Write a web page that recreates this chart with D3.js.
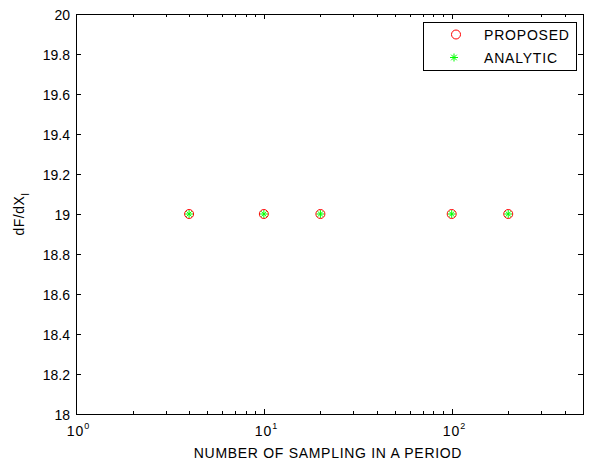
<!DOCTYPE html>
<html><head><meta charset="utf-8">
<script src="https://cdn.jsdelivr.net/npm/d3@7"></script>
<style>body{margin:0;background:#fff}svg{display:block}text{font-family:"Liberation Sans",Arial,sans-serif;}</style>
</head><body>
<script>
const samples = [4, 10, 20, 100, 200];
const proposed = [19, 19, 19, 19, 19];
const analytic = [19, 19, 19, 19, 19];
const yTicks = [18, 18.2, 18.4, 18.6, 18.8, 19, 19.2, 19.4, 19.6, 19.8, 20];
const xDecades = [1, 10, 100];
const legendNames = ["PROPOSED", "ANALYTIC"];

const W = 592, H = 464;
const m = {l: 76, r: 583, t: 14, b: 414};
const svg = d3.select("body").append("svg").attr("width", W).attr("height", H);
const x = d3.scaleLog().domain([1, 500]).range([m.l, m.r]);
const y = d3.scaleLinear().domain([18, 20]).range([m.b, m.t]);

const minor = [];
for (const d of xDecades) for (let k = 2; k <= 9; k++) { const v = d * k; if (v <= 500) minor.push(v); }

const g = svg.append("g");
g.append("rect").attr("x", m.l + 0.5).attr("y", m.t + 0.5).attr("width", m.r - m.l).attr("height", m.b - m.t)
  .attr("fill", "none").attr("stroke", "#000").attr("stroke-width", 1);

yTicks.forEach(v => {
  const yy = Math.round(y(v)) + 0.5;
  g.append("line").attr("x1", m.l).attr("x2", m.l + 5).attr("y1", yy).attr("y2", yy).attr("stroke", "#000");
  g.append("line").attr("x1", m.r - 5).attr("x2", m.r).attr("y1", yy).attr("y2", yy).attr("stroke", "#000");
  g.append("text").attr("x", m.l - 6).attr("y", yy + 5).attr("text-anchor", "end")
    .attr("font-size", 14).text(+v.toFixed(1));
});
xDecades.forEach(v => {
  const xx = Math.round(x(v)) + 0.5;
  g.append("line").attr("x1", xx).attr("x2", xx).attr("y1", m.b).attr("y2", m.b - 5).attr("stroke", "#000");
  g.append("line").attr("x1", xx).attr("x2", xx).attr("y1", m.t).attr("y2", m.t + 5).attr("stroke", "#000");
  const t = g.append("text").attr("x", xx + 2).attr("y", m.b + 22).attr("text-anchor", "middle").attr("font-size", 14)
    .attr("letter-spacing", 1);
  t.append("tspan").text("10");
  t.append("tspan").attr("dy", -7).attr("font-size", 9).text(Math.round(Math.log10(v)));
});
minor.forEach(v => {
  const xx = Math.round(x(v)) + 0.5;
  g.append("line").attr("x1", xx).attr("x2", xx).attr("y1", m.b).attr("y2", m.b - 3).attr("stroke", "#000");
  g.append("line").attr("x1", xx).attr("x2", xx).attr("y1", m.t).attr("y2", m.t + 3).attr("stroke", "#000");
});

g.append("text").attr("x", 328).attr("y", 458).attr("text-anchor", "middle").attr("font-size", 14)
  .attr("letter-spacing", 0.7).text("NUMBER OF SAMPLING IN A PERIOD");
const yl = g.append("text").attr("transform", `translate(24,${(m.t + m.b) / 2}) rotate(-90)`)
  .attr("text-anchor", "middle").attr("font-size", 14).attr("letter-spacing", 0.5);
yl.append("tspan").text("dF/dX");
yl.append("tspan").attr("dy", 5).attr("font-size", 10).text("I");

function star(sel, cx, cy, r, color) {
  const gg = sel.append("g").attr("stroke", color).attr("stroke-width", 1);
  gg.append("line").attr("x1", cx - r).attr("x2", cx + r).attr("y1", cy).attr("y2", cy);
  gg.append("line").attr("x1", cx).attr("x2", cx).attr("y1", cy - r).attr("y2", cy + r);
  const d = r * 0.7;
  gg.append("line").attr("x1", cx - d).attr("x2", cx + d).attr("y1", cy - d).attr("y2", cy + d);
  gg.append("line").attr("x1", cx - d).attr("x2", cx + d).attr("y1", cy + d).attr("y2", cy - d);
}

samples.forEach((s, i) => {
  g.append("circle").attr("cx", x(s)).attr("cy", y(proposed[i])).attr("r", 4.5)
    .attr("fill", "none").attr("stroke", "#ff0000").attr("stroke-width", 1);
});
samples.forEach((s, i) => star(g, x(s), y(analytic[i]), 4, "#00ff00"));

const lg = g.append("g");
lg.append("rect").attr("x", 423.5).attr("y", 22.5).attr("width", 153).attr("height", 48)
  .attr("fill", "#fff").attr("stroke", "#000");
lg.append("circle").attr("cx", 456).attr("cy", 34.5).attr("r", 4.5).attr("fill", "none").attr("stroke", "#ff0000");
star(lg, 454, 57.5, 4, "#00ff00");
legendNames.forEach((n, i) => {
  lg.append("text").attr("x", 484).attr("y", 40 + i * 23).attr("font-size", 14).attr("letter-spacing", 0.8).text(n);
});
</script>
</body></html>
